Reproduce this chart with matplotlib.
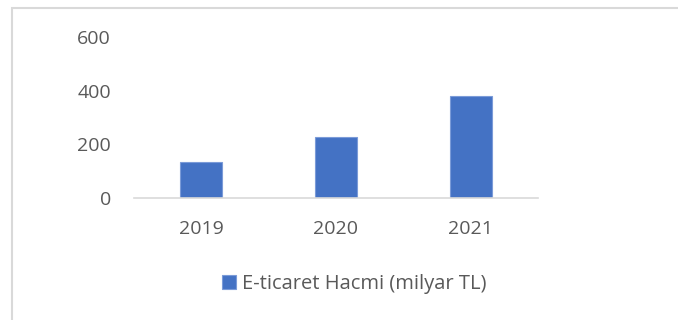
import numpy as np
import matplotlib.pyplot as plt
from matplotlib.patches import Rectangle

# e-commerce volume, billion TL
years = ['2019', '2020', '2021']
volume = [136.0, 226.2, 381.5]
series_name = 'E-ticaret Hacmi (milyar TL)'
yticks = [0, 200, 400, 600]

plt.rcParams['font.family'] = ['Open Sans', 'DejaVu Sans']
text_col = '#595959'

fig = plt.figure(figsize=(6.78, 3.2), dpi=100)
ax = fig.add_axes([134/678, 1-198/320, 404/678, 161/320])

x = np.arange(len(years))
ax.bar(x, volume, width=0.31, color='#4472C4', edgecolor='#7b9bd8',
       linewidth=0.8, label=series_name)

ax.set_xlim(-0.5, len(years)-0.5)
ax.set_ylim(0, 600)
ax.set_xticks(x)
ax.set_xticklabels(years)
ax.set_yticks(yticks)

for s in ['top', 'right', 'left']:
    ax.spines[s].set_visible(False)
ax.spines['bottom'].set_color('#d9d9d9')
ax.spines['bottom'].set_linewidth(1.2)

ax.tick_params(axis='y', length=0, pad=16.5, labelsize=14, colors=text_col)
ax.tick_params(axis='x', length=0, pad=16, labelsize=14, colors=text_col)

# legend below the plot
fig.legend(loc='center', bbox_to_anchor=(354/678, 1-284/320), frameon=False,
           fontsize=14.5, labelcolor=text_col, handlelength=0.7,
           handleheight=0.7, handletextpad=0.3)

# chart frame
fig.patches.append(Rectangle((12/678, -0.05), 0.99, 1-7.5/320+0.05,
                             transform=fig.transFigure, fill=False,
                             edgecolor='#d9d9d9', linewidth=1.5))

fig.savefig('out.png', dpi=100)
